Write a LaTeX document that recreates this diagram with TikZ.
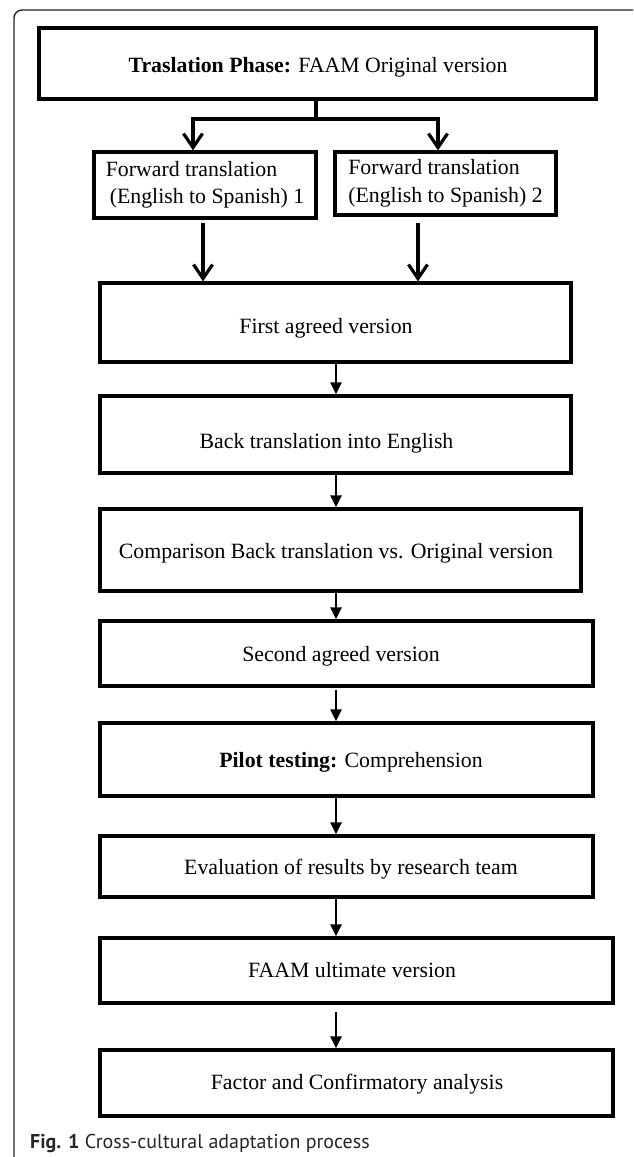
\documentclass[tikz,border=0pt]{standalone}
\usepackage{fontspec}
\setmainfont{Liberation Serif}
\newfontfamily\capfont{PT Sans}
\usetikzlibrary{arrows.meta}
\begin{document}
\begin{tikzpicture}[x=1pt,y=-1pt,
  box/.style 2 args={draw=black, line width=3.2pt, minimum width=#1, minimum height=#2, inner sep=0pt},
  txt/.style={font=\fontsize{21.8pt}{27.5pt}\selectfont, inner sep=0pt, text=black, anchor=base},
  ftbox/.style={draw=black, line width=3.2pt, font=\fontsize{21.8pt}{27.5pt}\selectfont, align=left, text=black, inner sep=0pt},
  tarrow/.style={draw=black, line width=3.2pt, -{Straight Barb[length=14pt,width=19pt]}},
  tline/.style={draw=black, line width=3.2pt},
  arrow/.style={draw=black, line width=2.7pt, -{Triangle[length=12pt,width=11pt]}},
  frame/.style={draw=black!85, line width=1.4pt, rounded corners=8pt}
]
\useasboundingbox (0,0) rectangle (633,1157);
\fill[white] (0,0) rectangle (633,1157);
\clip (0,0) rectangle (633,1157);
\draw[frame] (14,1170) -- (14,10) -- (641,10) -- (641,40);

% boxes
\node[box={557pt}{71pt}] (top) at (317.5,63.5) {};
\node[txt] (topT) at (318,72) {\textbf{Traslation Phase:} FAAM Original version};

\node[ftbox, minimum width=222pt, minimum height=66pt] (ft1) at (205,185)
  {Forward translation\\\hspace*{4pt}(English to Spanish) 1};
\node[ftbox, minimum width=221pt, minimum height=63pt] (ft2) at (445.5,183.5)
  {Forward translation\\(English to Spanish) 2};

\node[box={471pt}{79pt}] (first) at (335.5,322.5) {};
\node[txt] (firstT) at (326,333) {First agreed version};

\node[box={471pt}{77pt}] (back) at (335.5,434.5) {};
\node[txt] (backT) at (326.5,448) {Back translation into English};

\node[box={481pt}{82pt}] (comp) at (340.5,550) {};
\node[txt] (compT) at (336,558) {Comparison Back translation vs. Original version};

\node[box={493pt}{65pt}] (second) at (346.5,653.5) {};
\node[txt] (secondT) at (341,661) {Second agreed version};

\node[box={493pt}{73pt}] (pilot) at (346.5,759.5) {};
\node[txt] (pilotT) at (351,767) {\textbf{Pilot testing:} Comprehension};

\node[box={493pt}{61pt}] (eval) at (346.5,866.5) {};
\node[txt] (evalT) at (351,874) {Evaluation of results by research team};

\node[box={513pt}{65pt}] (ult) at (356.5,970.5) {};
\node[txt] (ultT) at (352,977) {FAAM ultimate version};

\node[box={513pt}{66pt}] (factor) at (356.5,1083) {};
\node[txt] (factorT) at (357,1089) {Factor and Confirmatory analysis};

% connectors
\coordinate (split) at (316,119);
\coordinate (a1) at (193,0);
\coordinate (a2) at (438,0);
\draw[tline] (top.south -| split) -- (split);
\draw[tarrow] (split) -| (a1 |- ft1.north);
\draw[tarrow] (split) -| (a2 |- ft2.north);

\coordinate (b1) at (203,223);
\coordinate (b2) at (418,223);
\draw[tarrow] (b1) -- (b1 |- first.north);
\draw[tarrow] (b2) -- (b2 |- first.north);

\coordinate (c) at (336,0);
\draw[arrow] (c |- first.south) -- (c |- back.north);
\draw[arrow] (c |- back.south) -- (c |- comp.north);
\draw[arrow] (c |- comp.south) -- (c |- second.north);
\draw[arrow] ([yshift=-2pt]c |- second.south) -- (c |- pilot.north);
\draw[arrow] (c |- pilot.south) -- (c |- eval.north);
\draw[arrow] (c |- eval.south) -- (c |- ult.north);
\draw[arrow] ([yshift=-7pt]c |- ult.south) -- (c |- factor.north);

% caption
\node[anchor=base west, inner sep=0pt, font=\capfont\fontsize{20pt}{23pt}\selectfont, text=black!85] (cap) at (30,1148)
  {\textbf{Fig. 1} Cross-cultural adaptation process};
\end{tikzpicture}
\end{document}
